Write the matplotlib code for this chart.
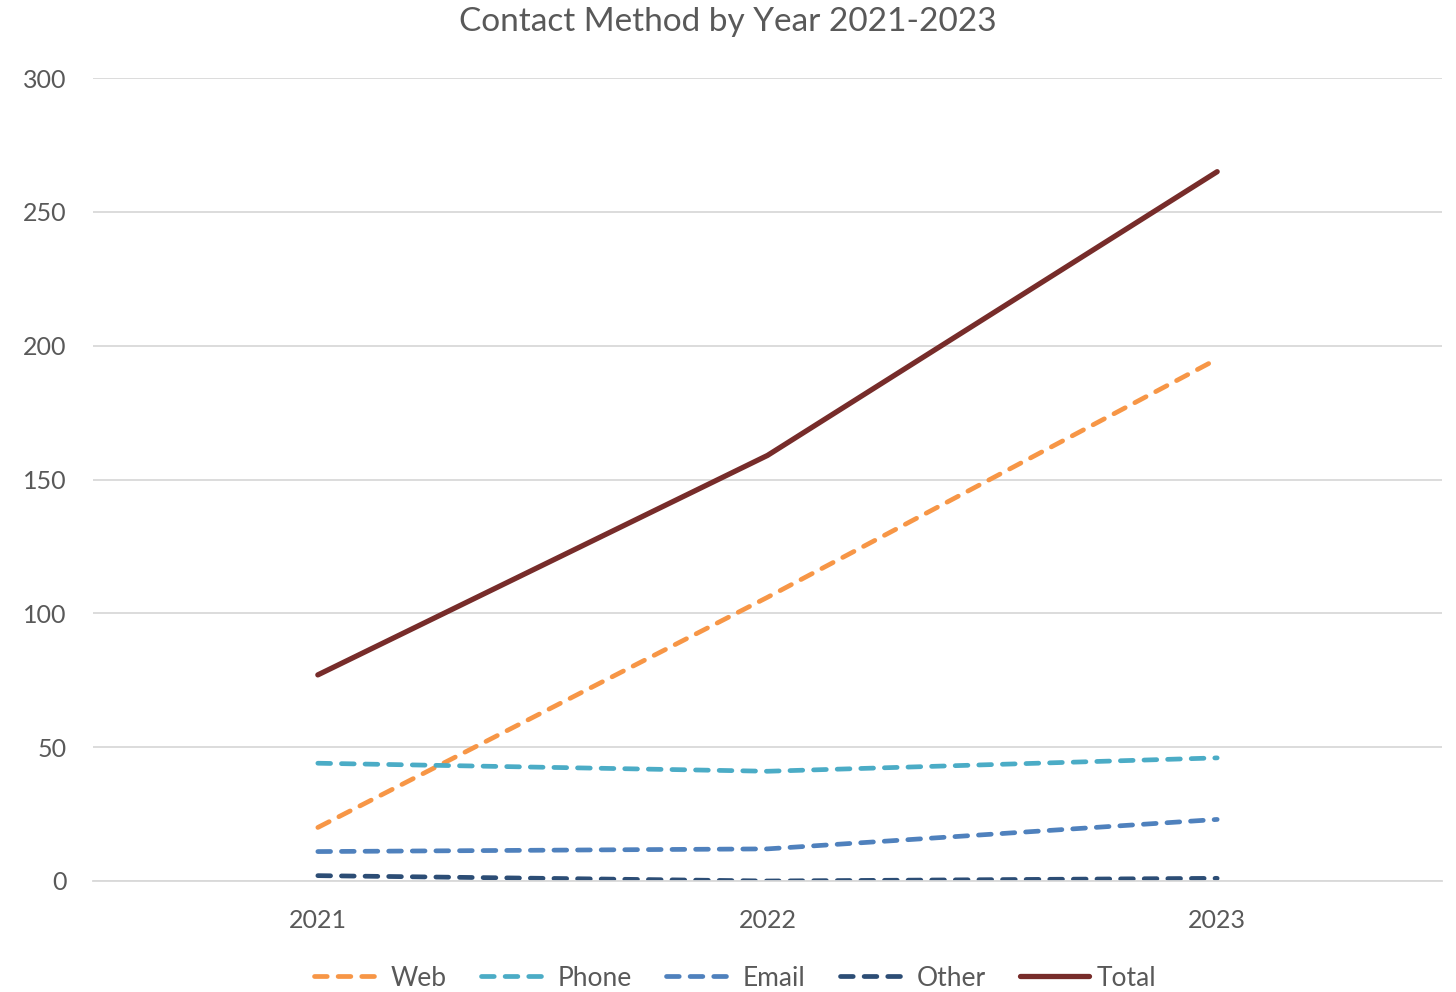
"""
Contact method by year, 2021-2023 (Excel-style line chart).
"""
import matplotlib
matplotlib.use("Agg")
from matplotlib import pyplot as plt
import numpy as np


YEARS = ["2021", "2022", "2023"]
WEB = [20, 106, 195]
PHONE = [44, 41, 46]
EMAIL = [11, 12, 23]
OTHER = [2, 0, 1]
TOTAL = [77, 159, 265]

COLORS = {
    "Web": "#F79646",
    "Phone": "#4BACC6",
    "Email": "#4F81BD",
    "Other": "#2C4D75",
    "Total": "#772C2A",
}
TEXT = "#595959"
GRID = "#D9D9D9"


if __name__ == "__main__":
    plt.rcParams["font.family"] = ["Lato", "DejaVu Sans"]
    fig = plt.figure(figsize=(14.56, 9.92), dpi=100)
    ax = fig.add_axes([93 / 1456, 1 - 881 / 992, 1349 / 1456, 803 / 992])

    x = np.arange(len(YEARS))
    series = [("Web", WEB), ("Phone", PHONE), ("Email", EMAIL), ("Other", OTHER)]
    for name, vals in series:
        ax.plot(x, vals, color=COLORS[name], lw=3.4, ls=(0, (2.7, 2.3)),
                dash_capstyle="round", label=name)
    ax.plot(x, TOTAL, color=COLORS["Total"], lw=3.8, solid_capstyle="round",
            label="Total")

    ax.set_xlim(-0.5, 2.5)
    ax.set_ylim(0, 300)
    ax.set_yticks(np.arange(0, 301, 50))
    ax.set_xticks(x)
    ax.set_xticklabels(YEARS)
    ax.grid(axis="y", color=GRID, lw=1.3)
    ax.set_axisbelow(True)
    for side in ["top", "right", "left"]:
        ax.spines[side].set_visible(False)
    ax.spines["bottom"].set_color(GRID)
    ax.spines["bottom"].set_linewidth(1.3)
    ax.tick_params(length=0, colors=TEXT, labelsize=18)
    ax.tick_params(axis="y", pad=19)
    ax.tick_params(axis="x", pad=20)

    fig.suptitle("Contact Method by Year 2021-2023", color=TEXT, fontsize=24,
                 y=1 - 22 / 992, va="center")
    fig.legend(loc="center", bbox_to_anchor=(0.505, 1 - 978 / 992), ncol=5,
               frameon=False, fontsize=19, labelcolor=TEXT, handlelength=2.6,
               handletextpad=0.3, columnspacing=1.3)

    fig.savefig("out.png", dpi=100)
